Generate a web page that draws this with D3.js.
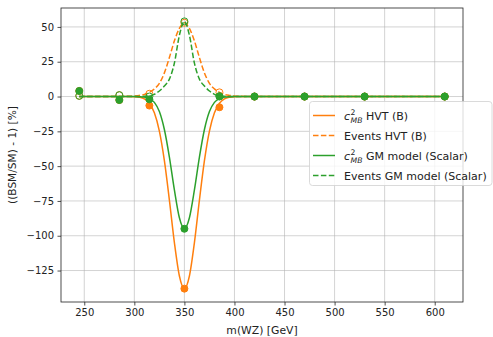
<!DOCTYPE html>
<html><head><meta charset="utf-8">
<script src="https://cdn.jsdelivr.net/npm/d3@7"></script>
<style>body{margin:0;background:#fff}svg{display:block;font-family:"DejaVu Sans",sans-serif}</style>
</head><body>
<svg id="c" width="493" height="337"></svg>
<script>
// marker data
const massPoints = [245, 285, 315, 350, 385, 420, 470, 530, 610];
const hvtC2 = [4, -2.5, -6.5, -138, -7.7, 0, 0, 0, 0];
const hvtEvents = [0.5, 1, 2, 53, 3, 0, 0, 0, 0];
const gmC2 = [4, -2.5, -2, -95, 0, 0, 0, 0, 0];
const gmEvents = [0.5, 1, 0, 54, 0.3, 0, 0, 0, 0];
// curve data
const curveX = [245, 290, 300, 305, 310, 315, 320, 325, 330, 335, 340, 345, 350, 355, 360, 365, 370, 375, 380, 385, 390, 395, 400, 410, 610];
const hvtC2Curve = [0, 0, -0.1, -0.5, -1.7, -4.8, -11.7, -24.8, -46.1, -74.4, -104.9, -128.9, -138, -128.9, -104.9, -74.4, -46.1, -24.8, -11.7, -4.8, -1.7, -0.5, -0.1, 0, 0];
const hvtEvCurve = [0, 0.1, 0.4, 0.8, 1.5, 3, 5.5, 9.5, 17, 28, 40, 49, 53, 49, 40, 28, 17, 9.5, 5.5, 3, 1.5, 0.8, 0.4, 0.1, 0];
const gmC2Curve = [0, 0, 0, -0.1, -0.4, -1.4, -4.2, -10.8, -23.7, -43.5, -67.1, -87.1, -95, -87.1, -67.1, -43.5, -23.7, -10.8, -4.2, -1.4, -0.4, -0.1, 0, 0, 0];
const gmEvCurve = [0, 0, 0, 0.05, 0.15, 0.5, 1.6, 4, 7.5, 12.5, 24, 44, 54, 44, 24, 12.5, 7.5, 4, 1.6, 0.5, 0.15, 0.05, 0, 0, 0];
const xTicks = [250, 300, 350, 400, 450, 500, 550, 600];
const yTicks = [50, 25, 0, -25, -50, -75, -100, -125];

const ORANGE = "#ff7f0e", GREEN = "#2ca02c";
const L = 61, R = 463, T = 8, B = 302;
const svg = d3.select("#c");

const x = d3.scaleLinear().domain([226.75, 628.25]).range([L, R]);
const y = d3.scaleLinear().domain([-147.6, 63.6]).range([B, T]);

// grid
const g = svg.append("g");
g.selectAll(".gx").data(xTicks).enter().append("line")
  .attr("x1", d => x(d)).attr("x2", d => x(d)).attr("y1", T).attr("y2", B)
  .attr("stroke", "#b0b0b0").attr("stroke-opacity", 0.7).attr("stroke-width", 0.8);
g.selectAll(".gy").data(yTicks).enter().append("line")
  .attr("y1", d => y(d)).attr("y2", d => y(d)).attr("x1", L).attr("x2", R)
  .attr("stroke", "#b0b0b0").attr("stroke-opacity", 0.7).attr("stroke-width", 0.8);

svg.append("clipPath").attr("id", "clip").append("rect")
  .attr("x", L).attr("y", T).attr("width", R - L).attr("height", B - T);
const plot = svg.append("g").attr("clip-path", "url(#clip)");

const line = d3.line().x(d => x(d[0])).y(d => y(d[1])).curve(d3.curveMonotoneX);
function drawCurve(vals, color, dashed) {
  plot.append("path").datum(curveX.map((v, i) => [v, vals[i]]))
    .attr("d", line).attr("fill", "none").attr("stroke", color).attr("stroke-width", 1.5)
    .attr("stroke-dasharray", dashed ? "5.5,2.4" : null);
}
function drawMarkers(vals, color, filled) {
  plot.selectAll(null).data(massPoints.map((v, i) => [v, vals[i]])).enter().append("circle")
    .attr("cx", d => x(d[0])).attr("cy", d => y(d[1])).attr("r", 3.5)
    .attr("fill", filled ? color : "none").attr("stroke", color).attr("stroke-width", 1);
}
drawCurve(hvtC2Curve, ORANGE, false);
drawMarkers(hvtC2, ORANGE, true);
drawCurve(hvtEvCurve, ORANGE, true);
drawMarkers(hvtEvents, ORANGE, false);
drawCurve(gmC2Curve, GREEN, false);
drawMarkers(gmC2, GREEN, true);
drawCurve(gmEvCurve, GREEN, true);
drawMarkers(gmEvents, GREEN, false);

// axes
const xa = svg.append("g").attr("transform", `translate(0,${B})`)
  .call(d3.axisBottom(x).tickValues(xTicks).tickSize(3.5).tickPadding(3.5).tickFormat(d3.format("d")));
const ya = svg.append("g").attr("transform", `translate(${L},0)`)
  .call(d3.axisLeft(y).tickValues(yTicks).tickSize(3.5).tickPadding(3.5).tickFormat(d => d < 0 ? "\u2212" + Math.abs(d) : d));
[xa, ya].forEach(a => {
  a.select(".domain").remove();
  a.selectAll("text").attr("font-size", 10).attr("font-family", "DejaVu Sans").attr("fill", "#222");
  a.selectAll("line").attr("stroke", "#222").attr("stroke-width", 0.8);
});
svg.append("rect").attr("x", L).attr("y", T).attr("width", R - L).attr("height", B - T)
  .attr("fill", "none").attr("stroke", "#222").attr("stroke-width", 0.8);

svg.append("text").attr("x", (L + R) / 2).attr("y", 334).attr("text-anchor", "middle")
  .attr("font-size", 10.8).attr("fill", "#222").text("m(WZ) [GeV]");
svg.append("text").attr("transform", `translate(16,${(T + B) / 2}) rotate(-90)`).attr("text-anchor", "middle")
  .attr("font-size", 10.6).attr("fill", "#222").text("((BSM/SM) - 1) [%]");

// legend
const lg = svg.append("g");
lg.append("rect").attr("x", 309.5).attr("y", 101.5).attr("width", 182.5).attr("height", 84).attr("rx", 3)
  .attr("fill", "#fff").attr("fill-opacity", 0.8).attr("stroke", "#d0d0d0").attr("stroke-width", 0.8);
const entries = [
  {c: ORANGE, dash: false, math: true, label: " HVT (B)"},
  {c: ORANGE, dash: true, math: false, label: "Events HVT (B)"},
  {c: GREEN, dash: false, math: true, label: " GM model (Scalar)"},
  {c: GREEN, dash: true, math: false, label: "Events GM model (Scalar)"}
];
entries.forEach((e, i) => {
  const cy = 115.5 + i * 20;
  lg.append("line").attr("x1", 313).attr("x2", 335).attr("y1", cy).attr("y2", cy)
    .attr("stroke", e.c).attr("stroke-width", 1.5).attr("stroke-dasharray", e.dash ? "5.5,2.4" : null);
  const t = lg.append("text").attr("x", 344).attr("y", cy + 4).attr("font-size", 11).attr("fill", "#222");
  if (e.math) {
    t.append("tspan").attr("font-style", "italic").text("c");
    t.append("tspan").attr("font-size", 7.7).attr("dy", -5).attr("dx", 0.5).text("2");
    t.append("tspan").attr("font-size", 7.7).attr("font-style", "italic").attr("dy", 8).attr("dx", -4.9).text("MB");
    t.append("tspan").attr("dy", -3).text(e.label);
  } else {
    t.text(e.label);
  }
});
</script>
</body></html>
